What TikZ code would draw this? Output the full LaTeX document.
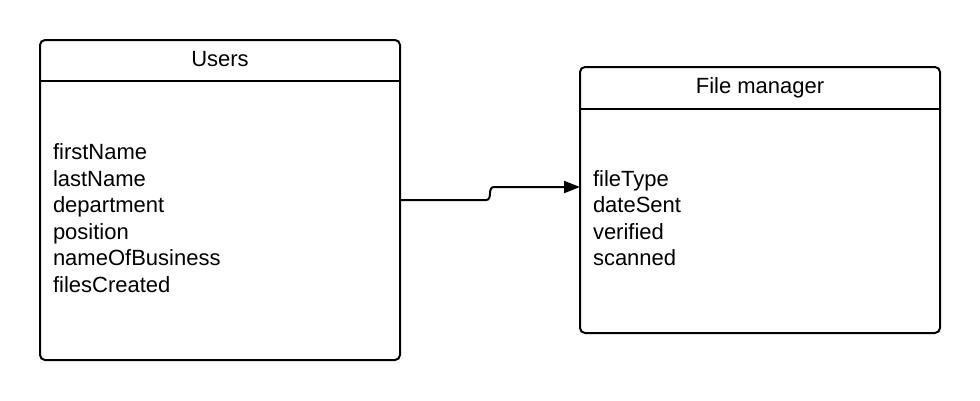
\documentclass[tikz,border=0pt]{standalone}
\usepackage{fontspec}
\setmainfont{Liberation Sans}
\usetikzlibrary{arrows.meta}

\begin{document}
\begin{tikzpicture}[x=1pt, y=-1pt, line width=2pt,
    class box/.style={draw, rounded corners=5pt, inner sep=0pt},
    class title/.style={anchor=base, inner sep=0pt, font=\fontsize{22}{26.5}\selectfont},
    class fields/.style={anchor=west, align=left, inner sep=0pt, font=\fontsize{22}{26.5}\selectfont}]

                \useasboundingbox (0,0) rectangle (980,400);

                \node[class box, minimum width=360pt, minimum height=320pt] at (220,200) (users) {};
                \node[class box, minimum width=360pt, minimum height=266pt] at (760,200) (filemgr) {};

                \draw ([yshift=-42pt]users.north west) -- ([yshift=-42pt]users.north east);
                \draw ([yshift=-43pt]filemgr.north west) -- ([yshift=-43pt]filemgr.north east);

                \node[class title] at (220,66) (userstitle) {Users};
                \node[class title] at (760,93) (filemgrtitle) {File manager};

                \node[class fields] at (52,218) (userfields) {firstName\\lastName\\department\\position\\nameOfBusiness\\filesCreated};
                \node[class fields] at (592,218) (filemgrfields) {fileType\\dateSent\\verified\\scanned};

                \coordinate (filemgrin) at (580,187);
                \draw[-{Triangle[length=16pt,width=12pt]}] (users.east) -- (486,200) .. controls (493,200) and (487,187) .. (494,187) -- (filemgrin);
            \end{tikzpicture}
\end{document}
